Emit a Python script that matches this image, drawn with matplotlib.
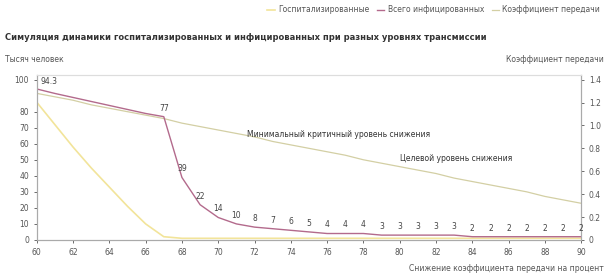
import matplotlib.pyplot as plt

plt.rcParams['font.family'] = ['DejaVu Sans']

# reduction of transmission, %
x_vals = list(range(60, 91))

hospitalized = [86, 72, 58, 45, 33, 21, 10, 2, 1, 1, 1, 1, 1, 1, 1, 1,
                1, 1, 1, 1, 1, 1, 1, 1, 1, 1, 1, 1, 1, 1, 1]
total_infected = [94.3, 91.5, 89, 86.5, 84, 81.5, 79, 77, 39, 22, 14, 10, 8, 7, 6, 5,
                  4, 4, 4, 3, 3, 3, 3, 3, 2, 2, 2, 2, 2, 2, 2]
labelled = [True] + [False] * 6 + [True] * 24
coef = [1.28, 1.25, 1.22, 1.18, 1.15, 1.12, 1.09, 1.06, 1.02, 0.99, 0.96, 0.93,
        0.90, 0.86, 0.83, 0.80, 0.77, 0.74, 0.70, 0.67, 0.64, 0.61, 0.58, 0.54,
        0.51, 0.48, 0.45, 0.42, 0.38, 0.35, 0.32]

left_ticks = [0, 10, 20, 30, 40, 50, 60, 70, 80, 100]
right_ticks = [0, 0.2, 0.4, 0.6, 0.8, 1.0, 1.2, 1.4]
right_labels = ["0", "0.2", "0.4", "0.6", "0.8", "1.0", "1.2", "1.4"]

c_hosp = "#f2e49a"
c_total = "#b36a8c"
c_coef = "#d3cfa4"
grey = "#555555"
axis_grey = "#aaaaaa"

fig = plt.figure(figsize=(6.13, 2.78), dpi=100)
ax = fig.add_axes([0.060, 0.137, 0.888, 0.593])
ax2 = ax.twinx()

ax2.plot(x_vals, coef, color=c_coef, lw=0.9, label="Коэффициент передачи")
ax.plot(x_vals, hospitalized, color=c_hosp, lw=1.2, label="Госпитализированные")
ax.plot(x_vals, total_infected, color=c_total, lw=1.0, label="Всего инфицированных")
ax.set_zorder(ax2.get_zorder() + 1)
ax.patch.set_visible(False)

for i, (x, v, show) in enumerate(zip(x_vals, total_infected, labelled)):
    if not show:
        continue
    if i == 0:
        ax.annotate(f"{v:g}", (x, v), textcoords="offset points", xytext=(3, 2),
                    ha="left", va="bottom", fontsize=5.5, color="#444444")
    else:
        ax.annotate(f"{v:g}", (x, v), textcoords="offset points", xytext=(0, 3),
                    ha="center", va="bottom", fontsize=5.5, color="#444444")

ax.set_xlim(60, 90)
ax.set_ylim(0, 103)
ax2.set_ylim(0, 1.44)
ax.set_xticks(range(60, 91, 2))
ax.set_yticks(left_ticks)
ax2.set_yticks(right_ticks)
ax2.set_yticklabels(right_labels)

for a in (ax, ax2):
    a.tick_params(labelsize=5.5, colors=grey, length=2, width=0.6)
    for s in a.spines.values():
        s.set_color(axis_grey)
        s.set_linewidth(0.8)
ax.spines['top'].set_color("#dddddd")
ax2.spines['top'].set_color("#dddddd")

ax.text(71.6, 66, "Минимальный критичный уровень снижения", fontsize=5.5, color="#333333",
        va="center")
ax.text(80.0, 51, "Целевой уровень снижения", fontsize=5.5, color="#333333", va="center")

fig.text(0.008, 0.865, "Симуляция динамики госпитализированных и инфицированных при разных уровнях трансмиссии",
         fontsize=6, fontweight="bold", color="#333333", va="center")
fig.text(0.008, 0.785, "Тысяч человек", fontsize=5.5, color=grey, va="center")
fig.text(0.985, 0.785, "Коэффициент передачи", fontsize=5.5, color=grey, va="center", ha="right")
fig.text(0.985, 0.035, "Снижение коэффициента передачи на процент", fontsize=5.5, color=grey,
         va="center", ha="right")

h1, l1 = ax.get_legend_handles_labels()
h2, l2 = ax2.get_legend_handles_labels()
fig.legend(h1 + h2, l1 + l2, loc="center right", bbox_to_anchor=(0.99, 0.965), ncol=3,
           frameon=False, fontsize=5.5, handlelength=1.0, handletextpad=0.4, columnspacing=1.0,
           labelcolor=grey)

fig.savefig("out.png", dpi=100)
